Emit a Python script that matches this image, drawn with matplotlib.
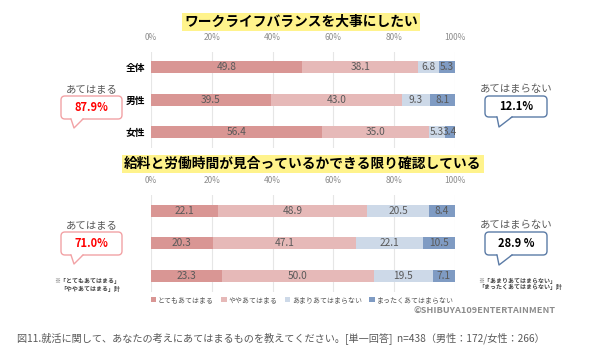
import numpy as np
import matplotlib
matplotlib.use("Agg")
import matplotlib.pyplot as plt
from matplotlib.patches import FancyBboxPatch, Polygon

plt.rcParams['font.family'] = ['Noto Sans CJK JP', 'DejaVu Sans']

# data
title1 = "ワークライフバランスを大事にしたい"
title2 = "給料と労働時間が見合っているかできる限り確認している"
groups1 = ["全体", "男性", "女性"]
groups2 = ["", "", ""]
series = ["とてもあてはまる", "ややあてはまる", "あまりあてはまらない", "まったくあてはまらない"]
q1_very = [49.8, 39.5, 56.4]
q1_some = [38.1, 43.0, 35.0]
q1_notmuch = [6.8, 9.3, 5.3]
q1_notatall = [5.3, 8.1, 3.4]
q2_very = [22.1, 20.3, 23.3]
q2_some = [48.9, 47.1, 50.0]
q2_notmuch = [20.5, 22.1, 19.5]
q2_notatall = [8.4, 10.5, 7.1]
ticks = [0, 20, 40, 60, 80, 100]
colors = ['#D99694', '#E6B9B8', '#CDD9E8', '#7F9BC3']

W, H = 600, 359
fig = plt.figure(figsize=(W / 100, H / 100), dpi=100)
fig.patch.set_facecolor('white')


def px_axes(x0, x1, y0, y1):
    return fig.add_axes([x0 / W, 1 - y1 / H, (x1 - x0) / W, (y1 - y0) / H])


def draw_chart(ax, groups, data, ylim):
    y = np.arange(len(groups))
    left = np.zeros(len(groups))
    for vals, c, name in zip(data, colors, series):
        bars = ax.barh(y, vals, left=left, height=0.37, color=c, label=name, zorder=3)
        ax.bar_label(bars, labels=[f"{v:.1f}" for v in vals], label_type='center',
                     fontsize=7.3, color='#595959')
        left += np.array(vals)
    ax.set_xlim(0, 100)
    ax.set_ylim(*ylim)
    ax.set_yticks(y)
    ax.set_yticklabels(groups, fontsize=7, fontweight='bold')
    ax.tick_params(axis='y', length=0, pad=4)
    ax.xaxis.tick_top()
    ax.set_xticks(ticks)
    ax.set_xticklabels([f"{t}%" for t in ticks], fontsize=6, color='#8C8C8C')
    ax.tick_params(axis='x', length=0, pad=7)
    ax.grid(axis='x', color='#E6E6E6', linewidth=0.8, zorder=0)
    for s in ax.spines.values():
        s.set_visible(False)


ax1 = px_axes(151, 455, 52, 148)
draw_chart(ax1, groups1, [q1_very, q1_some, q1_notmuch, q1_notatall], (2.48, -0.46))

ax2 = px_axes(151, 455, 195, 292)
draw_chart(ax2, groups2, [q2_very, q2_some, q2_notmuch, q2_notatall], (2.5, -0.48))
ax2.legend(loc='upper left', bbox_to_anchor=(-0.01, -0.015), ncol=4, frameon=False,
           fontsize=5, handlelength=0.75, handleheight=0.75, handletextpad=0.25,
           columnspacing=1.1, labelcolor='#595959', borderaxespad=0)

# overlay in pixel coordinates
ov2 = fig.add_axes([0, 0, 1, 1], zorder=5)
ov2.set_xlim(0, W)
ov2.set_ylim(H, 0)
ov2.axis('off')

for txt, cx, cy in [(title1, 301, 22), (title2, 303, 164)]:
    ov2.text(cx, cy, txt, ha='center', va='center', fontsize=9.9, fontweight='bold',
             color='black',
             bbox=dict(boxstyle='square,pad=0.15', facecolor='#FFF38C', edgecolor='none'))


def callout(x0, x1, y0, y1, tail, edge, head, value, vcolor):
    box = FancyBboxPatch((x0, y0), x1 - x0, y1 - y0, boxstyle='round,pad=0,rounding_size=4',
                         facecolor='white', edgecolor=edge, linewidth=1.0)
    ov2.add_patch(box)
    (ax_, ay_), (tx, ty), (bx, by) = tail
    ov2.add_patch(Polygon([(ax_, ay_ - 1), (tx, ty), (bx, by - 1)], closed=True,
                          facecolor='white', edgecolor='none'))
    ov2.plot([ax_, tx, bx], [ay_, ty, by], color=edge, linewidth=1.0)
    ov2.text((x0 + x1) / 2, y0 - 7, head, ha='center', va='center', fontsize=7.5, color='#595959')
    ov2.text((x0 + x1) / 2, (y0 + y1) / 2, value, ha='center', va='center', fontsize=8,
             fontweight='bold', color=vcolor)


pink_edge = '#F2A2A5'
blue_edge = '#5B7BA6'
callout(61, 122, 96, 119, [(71, 119), (74, 128), (83, 119)], pink_edge, "あてはまる", "87.9%", '#FF0000')
callout(485, 547, 96, 117, [(497, 117), (499, 127), (512, 117)], blue_edge, "あてはまらない", "12.1%", 'black')
callout(61, 122, 232, 255, [(71, 255), (74, 264), (83, 255)], pink_edge, "あてはまる", "71.0%", '#FF0000')
callout(485, 547, 232, 255, [(497, 255), (499, 265), (512, 255)], blue_edge, "あてはまらない", "28.9 %", 'black')

ov2.text(120, 281, "※「とてもあてはまる」", ha='right', va='center', fontsize=4.3, fontweight='bold', color='#404040')
ov2.text(120, 288, "「ややあてはまる」計", ha='right', va='center', fontsize=4.3, fontweight='bold', color='#404040')
ov2.text(478, 280, "※「あまりあてはまらない」", ha='left', va='center', fontsize=4.3, fontweight='bold', color='#404040')
ov2.text(478, 287, "「まったくあてはまらない」計", ha='left', va='center', fontsize=4.3, fontweight='bold', color='#404040')

ov2.text(555, 311, "©SHIBUYA109ENTERTAINMENT", ha='right', va='center', fontsize=6.6,
         fontweight='bold', color='#8C8C8C')
ov2.text(17, 338, "図11.就活に関して、あなたの考えにあてはまるものを教えてください。[単一回答]  n=438（男性：172/女性：266）",
         ha='left', va='center', fontsize=7.3, color='#595959')

fig.savefig("out.png", dpi=100, facecolor='white')
